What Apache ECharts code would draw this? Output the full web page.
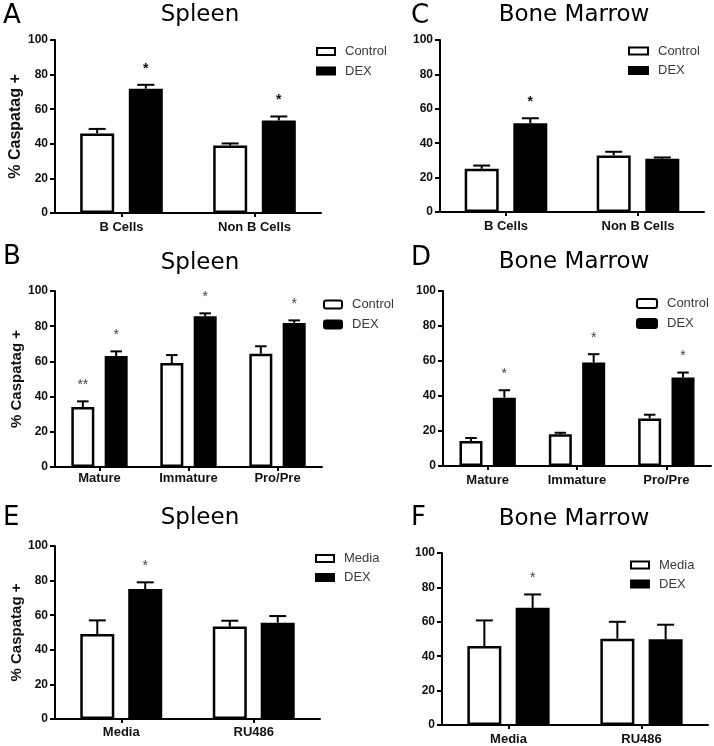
<!DOCTYPE html>
<html><head><meta charset="utf-8">
<script src="https://cdn.jsdelivr.net/npm/echarts@6/dist/echarts.min.js"></script>
<style>html,body{margin:0;padding:0;background:#fff}#c{width:714px;height:746px}</style>
</head><body><div id="c"></div>
<script>
// ---------- data ----------
const yTicks = [0, 20, 40, 60, 80, 100];
const catsCells = ['B Cells', 'Non B Cells'];
const catsSubsets = ['Mature', 'Immature', 'Pro/Pre'];
const catsTreat = ['Media', 'RU486'];

// A: Spleen, Control vs DEX
const aCtrl = [46.0, 39.0], aCtrlErr = [2.6, 1.2];
const aDex = [71.8, 53.5], aDexErr = [2.3, 2.3];
const aCtrlSig = ['', ''], aDexSig = ['*', '*'];
// C: Bone Marrow, Control vs DEX
const cCtrl = [25.1, 32.8], cCtrlErr = [1.9, 2.2];
const cDex = [51.6, 30.9], cDexErr = [2.9, 0.8];
const cCtrlSig = ['', ''], cDexSig = ['*', ''];
// B: Spleen subsets
const bCtrl = [34.1, 59.1, 64.4], bCtrlErr = [3.2, 4.5, 4.2];
const bDex = [63.1, 85.6, 81.8], bDexErr = [2.6, 1.7, 1.5];
const bCtrlSig = ['**', '', ''], bDexSig = ['*', '*', '*'];
// D: Bone Marrow subsets
const dCtrl = [14.3, 18.1, 27.2], dCtrlErr = [1.7, 0.9, 2.1];
const dDex = [39.0, 59.1, 50.6], dDexErr = [4.3, 4.8, 2.8];
const dCtrlSig = ['', '', ''], dDexSig = ['*', '*', '*'];
// E: Spleen, Media vs DEX
const eCtrl = [49.1, 53.4], eCtrlErr = [7.9, 3.4];
const eDex = [75.1, 55.7], eDexErr = [3.9, 3.8];
const eCtrlSig = ['', ''], eDexSig = ['*', ''];
// F: Bone Marrow, Media vs DEX
const fCtrl = [45.9, 50.2], fCtrlErr = [14.9, 9.8];
const fDex = [68.1, 49.8], fDexErr = [7.8, 8.5];
const fCtrlSig = ['', ''], fDexSig = ['*', ''];

const yName = '% Caspatag +';

// ---------- layout ----------
const panels = [
  {letter:'A', title:'Spleen', cats:catsCells, ctrlName:'Control', ctrl:aCtrl, ctrlErr:aCtrlErr, dex:aDex, dexErr:aDexErr, ctrlSig:aCtrlSig, dexSig:aDexSig,
   grid:{left:55, top:40, width:266, height:173}, bw:34, gap:0.43, yName:16, lblMargin:8,
   legend:{left:316, top:44.5, gap:5.5, iw:18, ih:7, icon:'rect'}, titleXY:[200, 15], letterXY:[3, 16], sigFont:'bold 14px "Liberation Sans"', sigColor:'#111'},
  {letter:'C', title:'Bone Marrow', cats:catsCells, ctrlName:'Control', ctrl:cCtrl, ctrlErr:cCtrlErr, dex:cDex, dexErr:cDexErr, ctrlSig:cCtrlSig, dexSig:cDexSig,
   grid:{left:440, top:40, width:264, height:172}, bw:34, gap:0.43, yName:0, lblMargin:8,
   legend:{left:628, top:44, gap:5.5, iw:19, ih:7, icon:'rect'}, titleXY:[574, 15], letterXY:[411, 16], sigFont:'bold 14px "Liberation Sans"', sigColor:'#111'},
  {letter:'B', title:'Spleen', cats:catsSubsets, ctrlName:'Control', ctrl:bCtrl, ctrlErr:bCtrlErr, dex:bDex, dexErr:bDexErr, ctrlSig:bCtrlSig, dexSig:bDexSig,
   grid:{left:55, top:291, width:267, height:176}, bw:23, gap:0.45, yName:15, lblMargin:5,
   legend:{left:323, top:297.5, gap:6, iw:18, ih:8, icon:'roundRect'}, titleXY:[200, 263], letterXY:[3, 257], sigFont:'14px "Liberation Sans"', sigColor:'#444'},
  {letter:'D', title:'Bone Marrow', cats:catsSubsets, ctrlName:'Control', ctrl:dCtrl, ctrlErr:dCtrlErr, dex:dDex, dexErr:dDexErr, ctrlSig:dCtrlSig, dexSig:dDexSig,
   grid:{left:443, top:291, width:268, height:175}, bw:23, gap:0.45, yName:0, lblMargin:8,
   legend:{left:636, top:296.5, gap:6, iw:20, ih:9, icon:'roundRect'}, titleXY:[574, 262], letterXY:[411, 258], sigFont:'14px "Liberation Sans"', sigColor:'#444'},
  {letter:'E', title:'Spleen', cats:catsTreat, ctrlName:'Media', ctrl:eCtrl, ctrlErr:eCtrlErr, dex:eDex, dexErr:eDexErr, ctrlSig:eCtrlSig, dexSig:eDexSig,
   grid:{left:55, top:546, width:265, height:173}, bw:34, gap:0.41, yName:15, lblMargin:7,
   legend:{left:315, top:551.5, gap:5, iw:18, ih:7, icon:'rect'}, titleXY:[200, 518.5], letterXY:[3, 518.5], sigFont:'14px "Liberation Sans"', sigColor:'#444'},
  {letter:'F', title:'Bone Marrow', cats:catsTreat, ctrlName:'Media', ctrl:fCtrl, ctrlErr:fCtrlErr, dex:fDex, dexErr:fDexErr, ctrlSig:fCtrlSig, dexSig:fDexSig,
   grid:{left:442, top:553, width:266, height:173}, bw:34, gap:0.42, yName:0, lblMargin:8,
   legend:{left:630, top:558, gap:5, iw:18, ih:7, icon:'rect'}, titleXY:[574, 519.5], letterXY:[411, 518.5], sigFont:'14px "Liberation Sans"', sigColor:'#444'}
];

const AX = '"Liberation Sans", Arial, sans-serif';

const option = {
  animation: false,
  backgroundColor: '#fff',
  grid: [], xAxis: [], yAxis: [], legend: [], series: [], graphic: []
};

function errSeries(idx, vals, errs, sigs, sign, p) {
  return {
    type: 'custom', xAxisIndex: idx, yAxisIndex: idx, z: 5, clip: false, silent: true,
    data: vals.map((v, i) => [i, v, errs[i]]),
    renderItem: function (params, api) {
      const off = sign * p.bw * (1 + p.gap) / 2;
      const base = api.coord([api.value(0), api.value(1)]);
      const top = api.coord([api.value(0), api.value(1) + api.value(2)]);
      const x = base[0] + off;
      const cap = p.bw * 0.5;
      const children = [
        {type:'line', shape:{x1:x, y1:base[1], x2:x, y2:top[1]}, style:{stroke:'#000', lineWidth:2}},
        {type:'line', shape:{x1:x - cap/2, y1:top[1], x2:x + cap/2, y2:top[1]}, style:{stroke:'#000', lineWidth:2}}
      ];
      const s = sigs[params.dataIndex];
      if (s) {
        children.push({type:'text', style:{text:s, x:x, y:top[1] - 16, align:'center', verticalAlign:'middle', font:p.sigFont, fill:p.sigColor}});
      }
      return {type:'group', children: children};
    }
  };
}

panels.forEach((p, idx) => {
  option.grid.push(Object.assign({containLabel:false}, p.grid));
  option.xAxis.push({
    type:'category', gridIndex: idx, data: p.cats,
    axisLine:{lineStyle:{color:'#000', width:2}},
    axisTick:{show:true, alignWithLabel:true, length:4, lineStyle:{color:'#000', width:2}},
    axisLabel:{color:'#111', fontFamily:AX, fontWeight:'bold', fontSize:13, margin:p.lblMargin}
  });
  option.yAxis.push({
    type:'value', gridIndex: idx, min: yTicks[0], max: yTicks[yTicks.length-1], interval: yTicks[1]-yTicks[0],
    axisLine:{show:true, lineStyle:{color:'#000', width:2}},
    axisTick:{show:true, length:5, lineStyle:{color:'#000', width:2}},
    splitLine:{show:false},
    axisLabel:{color:'#111', fontFamily:AX, fontWeight:'bold', fontSize:12, margin:7},
    name: p.yName ? yName : '', nameLocation:'middle', nameGap:29,
    nameTextStyle:{color:'#111', fontFamily:AX, fontWeight:'bold', fontSize:p.yName || 14}
  });
  option.legend.push({
    orient:'vertical', left:p.legend.left, top:p.legend.top, padding:0,
    itemGap:p.legend.gap, itemWidth:p.legend.iw, itemHeight:p.legend.ih, icon:p.legend.icon,
    textStyle:{color:'#3a3a3a', fontFamily:AX, fontSize:13, lineHeight:14, padding:[0,0,0,5]},
    selectedMode:false,
    data:[
      {name:p.ctrlName, itemStyle:{color:'#fff', borderColor:'#000', borderWidth:2}},
      {name:'DEX', itemStyle:{color:'#000', borderColor:'#000', borderWidth:2}}
    ]
  });
  option.series.push({
    type:'bar', name:p.ctrlName, xAxisIndex:idx, yAxisIndex:idx, data:p.ctrl,
    barWidth:p.bw, barGap:Math.round(p.gap*100)+'%',
    itemStyle:{color:'#fff', borderColor:'#000', borderWidth:2.5}
  });
  option.series.push({
    type:'bar', name:'DEX', xAxisIndex:idx, yAxisIndex:idx, data:p.dex,
    barWidth:p.bw, barGap:Math.round(p.gap*100)+'%',
    itemStyle:{color:'#000', borderColor:'#000', borderWidth:2.5}
  });
  option.series.push(errSeries(idx, p.ctrl, p.ctrlErr, p.ctrlSig, -1, p));
  option.series.push(errSeries(idx, p.dex, p.dexErr, p.dexSig, 1, p));
  option.graphic.push({type:'text', style:{text:p.title, x:p.titleXY[0], y:p.titleXY[1], align:'center', verticalAlign:'middle', font:'23px "DejaVu Sans"', fill:'#000'}});
  option.graphic.push({type:'text', style:{text:p.letter, x:p.letterXY[0], y:p.letterXY[1], align:'left', verticalAlign:'middle', font:'26px "DejaVu Sans"', fill:'#000'}});
});

const chart = echarts.init(document.getElementById('c'), null, {renderer:'canvas'});
chart.setOption(option);
</script>
</body></html>
